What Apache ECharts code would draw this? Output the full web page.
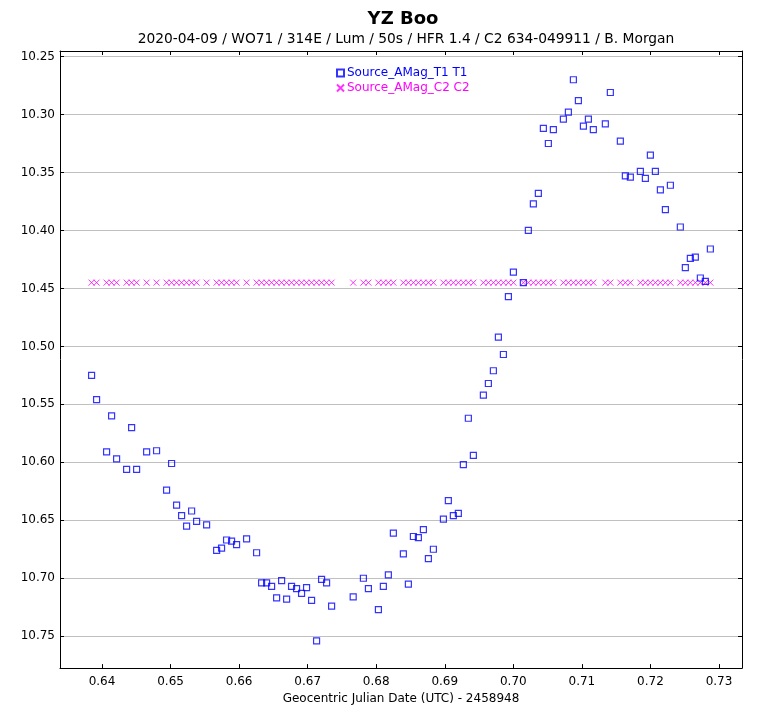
<!DOCTYPE html>
<html>
<head>
<meta charset="utf-8">
<script src="https://cdn.jsdelivr.net/npm/echarts@6/dist/echarts.min.js"></script>
<style>html,body{margin:0;padding:0;background:#fff;}#c{width:760px;height:710px;}</style>
</head>
<body>
<div id="c"></div>
<script>
var titleText = 'YZ Boo';
var subtitleText = '2020-04-09 / WO71 / 314E / Lum / 50s / HFR 1.4 / C2 634-049911 / B. Morgan';
var xAxisName = 'Geocentric Julian Date (UTC) - 2458948';
var seriesNames = ['Source_AMag_T1 T1', 'Source_AMag_C2 C2'];

var times = [0.63848, 0.63921, 0.64067, 0.64140, 0.64213, 0.64359, 0.64432, 0.64505, 0.64651, 0.64796,
  0.64942, 0.65015, 0.65088, 0.65161, 0.65234, 0.65307, 0.65380, 0.65526, 0.65672, 0.65744,
  0.65817, 0.65890, 0.65963, 0.66109, 0.66255, 0.66328, 0.66401, 0.66474, 0.66547, 0.66620,
  0.66693, 0.66765, 0.66838, 0.66911, 0.66984, 0.67057, 0.67130, 0.67203, 0.67276, 0.67349,
  0.67664, 0.67813, 0.67886, 0.68032, 0.68104, 0.68177, 0.68250, 0.68396, 0.68469, 0.68542,
  0.68615, 0.68688, 0.68761, 0.68834, 0.68980, 0.69052, 0.69125, 0.69198, 0.69271, 0.69344,
  0.69417, 0.69563, 0.69636, 0.69709, 0.69782, 0.69855, 0.69928, 0.70001, 0.70146, 0.70219,
  0.70292, 0.70365, 0.70438, 0.70511, 0.70584, 0.70730, 0.70803, 0.70876, 0.70949, 0.71022,
  0.71095, 0.71167, 0.71342, 0.71415, 0.71561, 0.71634, 0.71707, 0.71853, 0.71926, 0.71999,
  0.72072, 0.72145, 0.72218, 0.72291, 0.72436, 0.72509, 0.72582, 0.72655, 0.72728, 0.72801,
  0.72874];

var t1Mag = [10.525, 10.546, 10.591, 10.560, 10.597, 10.606, 10.570, 10.606, 10.591, 10.590,
  10.624, 10.601, 10.637, 10.646, 10.655, 10.642, 10.651, 10.654, 10.676, 10.674,
  10.667, 10.668, 10.671, 10.666, 10.678, 10.704, 10.704, 10.707, 10.717, 10.702,
  10.718, 10.707, 10.709, 10.713, 10.708, 10.719, 10.754, 10.701, 10.704, 10.724,
  10.716, 10.700, 10.709, 10.727, 10.707, 10.697, 10.661, 10.679, 10.705, 10.664,
  10.665, 10.658, 10.683, 10.675, 10.649, 10.633, 10.646, 10.644, 10.602, 10.562,
  10.594, 10.542, 10.532, 10.521, 10.492, 10.507, 10.457, 10.436, 10.445, 10.400,
  10.377, 10.368, 10.312, 10.325, 10.313, 10.304, 10.298, 10.270, 10.288, 10.310,
  10.304, 10.313, 10.308, 10.281, 10.323, 10.353, 10.354, 10.349, 10.355, 10.335,
  10.349, 10.365, 10.382, 10.361, 10.397, 10.432, 10.424, 10.423, 10.441, 10.444,
  10.416];

var c2Mag = [10.445, 10.445, 10.445, 10.445, 10.445, 10.445, 10.445, 10.445, 10.445, 10.445,
  10.445, 10.445, 10.445, 10.445, 10.445, 10.445, 10.445, 10.445, 10.445, 10.445,
  10.445, 10.445, 10.445, 10.445, 10.445, 10.445, 10.445, 10.445, 10.445, 10.445,
  10.445, 10.445, 10.445, 10.445, 10.445, 10.445, 10.445, 10.445, 10.445, 10.445,
  10.445, 10.445, 10.445, 10.445, 10.445, 10.445, 10.445, 10.445, 10.445, 10.445,
  10.445, 10.445, 10.445, 10.445, 10.445, 10.445, 10.445, 10.445, 10.445, 10.445,
  10.445, 10.445, 10.445, 10.445, 10.445, 10.445, 10.445, 10.445, 10.445, 10.445,
  10.445, 10.445, 10.445, 10.445, 10.445, 10.445, 10.445, 10.445, 10.445, 10.445,
  10.445, 10.445, 10.445, 10.445, 10.445, 10.445, 10.445, 10.445, 10.445, 10.445,
  10.445, 10.445, 10.445, 10.445, 10.445, 10.445, 10.445, 10.445, 10.445, 10.445,
  10.445];

var xMin = 0.633874, xMax = 0.733355;
var yMin = 10.2452, yMax = 10.7775;

function pairs(xs, ys) { return xs.map(function (x, i) { return [x, ys[i]]; }); }

var FONT = 'DejaVu Sans';
var chart = echarts.init(document.getElementById('c'), null, { renderer: 'canvas' });

function xAx(pos, labels) {
  return {
    type: 'value', position: pos, min: xMin, max: xMax,
    minInterval: 0.01, maxInterval: 0.01, splitNumber: 10,
    name: labels ? xAxisName : '', nameLocation: 'middle', nameGap: 23,
    nameTextStyle: { fontFamily: FONT, fontSize: 12, color: '#000' },
    axisLine: { show: true, onZero: false, lineStyle: { color: '#000', width: 1 } },
    axisTick: { show: true, inside: true, length: 4, lineStyle: { color: '#000' } },
    axisLabel: { show: labels, fontFamily: FONT, fontSize: 12, color: '#000', margin: 8,
      showMinLabel: false, showMaxLabel: false,
      formatter: function (v) { return v.toFixed(2); } },
    splitLine: { show: false }
  };
}
function yAx(pos, labels) {
  return {
    type: 'value', position: pos, inverse: true, min: yMin, max: yMax,
    minInterval: 0.05, maxInterval: 0.05, splitNumber: 10,
    axisLine: { show: true, onZero: false, lineStyle: { color: '#000', width: 1 } },
    axisTick: { show: true, inside: true, length: 4, lineStyle: { color: '#000' } },
    axisLabel: { show: labels, fontFamily: FONT, fontSize: 12, color: '#000', margin: 5,
      showMinLabel: false, showMaxLabel: false,
      formatter: function (v) { return v.toFixed(2); } },
    splitLine: { show: labels, lineStyle: { color: '#c0c0c0', width: 1 } }
  };
}

chart.setOption({
  animation: false,
  backgroundColor: '#fff',
  title: [
    { text: titleText, left: 398, top: 5, textAlign: 'center',
      textStyle: { fontFamily: FONT, fontSize: 18, fontWeight: 'bold', color: '#000' } },
    { text: subtitleText, left: 401, top: 27, textAlign: 'center',
      textStyle: { fontFamily: FONT, fontSize: 13.8, fontWeight: 'normal', color: '#000' } }
  ],
  legend: {
    orient: 'vertical', left: 331, top: 62, itemGap: 3, itemWidth: 7, itemHeight: 7,
    textStyle: { fontFamily: FONT, fontSize: 12, padding: [0, 0, 0, -2] },
    data: [
      { name: seriesNames[0], textStyle: { color: '#0000ff' } },
      { name: seriesNames[1], textStyle: { color: '#ff00ff' } }
    ]
  },
  grid: { left: 60, right: 18, top: 51, bottom: 40, containLabel: false },
  xAxis: [xAx('bottom', true), xAx('top', false)],
  yAxis: [yAx('left', true), yAx('right', false)],
  series: [
    { name: seriesNames[0], type: 'scatter', xAxisIndex: 0, yAxisIndex: 0,
      symbol: 'rect', symbolSize: 6,
      itemStyle: { color: 'rgba(255,255,255,0)', borderColor: '#0000ff', borderWidth: 1.2 },
      data: pairs(times, t1Mag), z: 3 },
    { name: seriesNames[1], type: 'scatter', xAxisIndex: 0, yAxisIndex: 0,
      symbol: 'path://M0,0L10,10M10,0L0,10', symbolSize: 6,
      itemStyle: { color: 'rgba(255,255,255,0)', borderColor: '#ff00ff', borderWidth: 1 },
      data: pairs(times, c2Mag), z: 2 }
  ]
});
</script>
</body>
</html>
